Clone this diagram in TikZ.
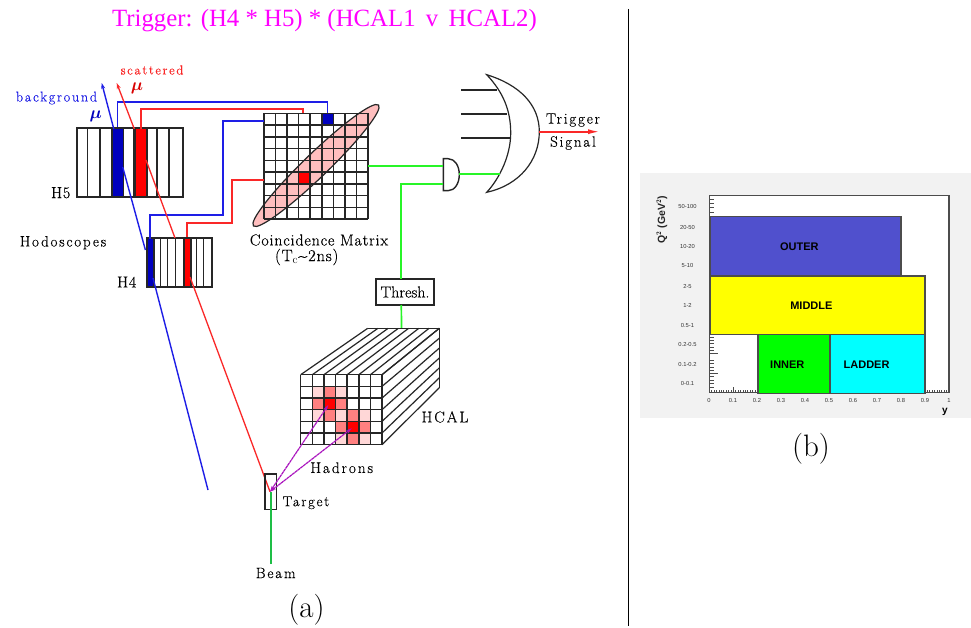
\documentclass[tikz,border=0pt]{standalone}
\usepackage{amsmath}
\usepackage{fontspec}
\usetikzlibrary{arrows.meta,calc,shapes.geometric}
\newfontfamily\spc{Latin Modern Roman}[LetterSpace=12,FakeBold=0.25]
\newfontfamily\spcs{Latin Modern Roman}[LetterSpace=5,FakeBold=0.25]
\newfontfamily\plainb{Latin Modern Roman}[FakeBold=0.25]
\newfontfamily\ttl{Liberation Serif}
\newfontfamily\arl{Liberation Sans}
\definecolor{wblue}{RGB}{30,30,230}
\definecolor{wred}{RGB}{250,40,40}
\definecolor{wgreen}{RGB}{40,245,40}
\definecolor{bgreen}{RGB}{30,190,70}
\definecolor{dblue}{RGB}{0,0,190}
\definecolor{pinkfill}{RGB}{255,190,190}
\definecolor{medred}{RGB}{255,128,128}
\definecolor{litered}{RGB}{255,215,215}
\definecolor{hadron}{RGB}{170,20,190}
\definecolor{panelgrey}{RGB}{242,242,242}
\definecolor{outerblue}{RGB}{80,80,205}
\definecolor{ttlmag}{RGB}{255,0,255}
\definecolor{ryellow}{RGB}{255,255,0}
\definecolor{rcyan}{RGB}{0,255,255}
\definecolor{rgreen}{RGB}{0,255,0}
\tikzset{
 lab/.style={font=\spc\fontsize{15}{17}\selectfont,inner sep=0pt,text=black},
 labm/.style={font=\spcs\fontsize{16}{18}\selectfont,inner sep=0pt,text=black},
 capl/.style={font=\fontsize{31}{33}\selectfont,inner sep=0pt},
 blk/.style={draw=black!85,line width=1.5pt},
 bar/.style={draw=black!85,line width=1.5pt,inner sep=0pt,anchor=south west,minimum height=#1},
 bwire/.style={draw=wblue,line width=1.7pt},
 rwire/.style={draw=wred,line width=1.7pt},
 gwire/.style={draw=wgreen,line width=1.7pt},
 trackb/.style={draw=wblue,line width=1.4pt},
 trackr/.style={draw=wred,line width=1.3pt},
 hwire/.style={draw=hadron,line width=1.2pt,dash pattern=on 3pt off 0.5pt},
 tinyl/.style={font=\arl\fontsize{5.8}{6}\selectfont,inner sep=0pt,text=black!80},
 regl/.style={font=\arl\bfseries\fontsize{11}{12}\selectfont,inner sep=0pt},
 region/.style={draw=black!70,line width=1.2pt},
 tickl/.style={draw=black!70,line width=0.8pt},
}
\begin{document}
\begin{tikzpicture}[x=1pt,y=-1pt]
\useasboundingbox (0,0) rectangle (971,628);
\fill[white] (0,0) rectangle (971,628);
% title
\node[font=\ttl\fontsize{24.8}{26}\selectfont,text=ttlmag,inner sep=0pt] (title) at (324.5,21) {Trigger: (H4 * H5) * (HCAL1\, v\, HCAL2)};
% divider
\coordinate (divT) at (628.5,9);
\coordinate (divB) at (628.5,626);
\draw[black,line width=1pt] (divT) -- (divB);
% coincidence ellipse & matrix
\node[draw=black!85,line width=1.2pt,fill=pinkfill,ellipse,minimum width=174pt,minimum height=24pt,inner sep=0pt,rotate=44] (ell) at (316,165.5) {};
\fill[dblue] (321.8,113.3) rectangle (333.4,125);
\fill[red] (298.7,171.8) rectangle (310.2,183.5);
\foreach \i in {0,...,9} {
  \draw[blk] ({264+\i*11.556},113.3) -- ({264+\i*11.556},219);
  \draw[blk] (264,{113.3+\i*11.744}) -- (368,{113.3+\i*11.744});
}
\coordinate (mTop5) at (327.6,113.3);
\coordinate (mTop3) at (303.3,113.3);
\coordinate (mL1) at (264,120.7);
\coordinate (mL5) at (264,180);
\coordinate (mR) at (368,166);
% H5
\node[bar=69pt,minimum width=106pt,fill=white] (h5) at (76,198) {};
\foreach \x in {87.5,100,134,157,169} \draw[blk] (\x,129) -- (\x,198);
\node[bar=69pt,minimum width=11.7pt,fill=dblue] (h5b) at (111,198) {};
\node[bar=69pt,minimum width=12pt,fill=red] (h5r) at (134,198) {};
% H4
\node[bar=49pt,minimum width=65pt,fill=white] (h4) at (146,287.7) {};
\foreach \x in {160.7,167.7,175.7,196.7,203.7} \draw[blk] (\x,238.7) -- (\x,287.7);
\node[bar=49pt,minimum width=7.3pt,fill=dblue] (h4b) at (146,287.7) {};
\node[bar=49pt,minimum width=7pt,fill=red] (h4r) at (183,287.7) {};
% wires
\draw[bwire] (h5b.north) |- (327.6,101.7) -- (mTop5);
\draw[rwire] (140.7,129) |- (303.3,108.7) -- (mTop3);
\draw[bwire] (150,238.7) |- (223.3,214.7) |- (mL1);
\draw[rwire] (h4r.north) |- (231.7,223.3) |- (mL5);
% tracks
\coordinate (bBot) at (208,490);
\coordinate (bH4a) at (153,278);
\coordinate (bH4b) at (145.4,250);
\coordinate (bH5a) at (122.7,167);
\coordinate (bH5b) at (113.8,129);
\coordinate (bTip) at (101.7,83);
\draw[trackb] (bBot) -- (bH4a);
\draw[trackb] (bH4b) -- (bH5a);
\draw[trackb,-{Stealth[length=6pt,width=4pt]}] (bH5b) -- (bTip);
\coordinate (rVtx) at (270,491.7);
\coordinate (rH4a) at (190,277);
\coordinate (rH4b) at (175,238);
\coordinate (rH5a) at (146,160);
\coordinate (rH5b) at (134.3,129);
\coordinate (rTip) at (116.7,83);
\draw[trackr] (rVtx) -- (rH4a);
\draw[trackr] (rH4b) -- (rH5a);
\draw[trackr,-{Stealth[length=6pt,width=4pt]}] (rH5b) -- (rTip);
% AND / OR gates
\draw[blk,fill=white,line width=1.4pt] (443.3,158.7) -- (443.3,190.7) -- (448,190.7) .. controls (455,190.7) and (459.3,183) .. (459.3,174.7) .. controls (459.3,166) and (455,158.7) .. (448,158.7) -- cycle;
\coordinate (andA) at (443.3,166);
\coordinate (andB) at (443.3,184);
\coordinate (andO) at (459.3,174);
\coordinate (orI) at (500,174);
\coordinate (orO) at (539.3,131.7);
\coordinate (trigEnd) at (600,131.7);
\draw[blk,line width=1.2pt] (486.7,74.7) .. controls (520,85) and (539.3,105) .. (539.3,131.7) .. controls (539.3,160) and (520,185) .. (486.7,192.3) .. controls (500,178) and (510.7,155) .. (510.7,133) .. controls (510.7,110) and (503,92) .. (486.7,74.7) -- cycle;
\foreach \xa/\yy in {496.7/90,506.7/114,510.7/138} \draw[blk] (461.3,\yy) -- (\xa,\yy);
\draw[gwire] (mR) -- (andA);
\draw[gwire] (andO) -- (orI);
\draw[rwire,-{Latex[length=12pt,width=5pt]}] (orO) -- (trigEnd);
% Thresh
\node[draw=black!85,line width=1.5pt,fill=white,minimum width=58pt,minimum height=26pt,inner sep=0pt,font=\plainb\fontsize{16}{18}\selectfont] (th) at (405,292) {Thresh.};
\draw[gwire] (andB) -| (401.3,279);
\coordinate (hcTop) at (401.5,328.3);
\draw[gwire] (401.3,305) -- (hcTop);
% HCAL
\fill[white] (300.7,374.7) -- (367.7,328.3) -- (439.3,328.3) -- (439.3,387.7) -- (382,444.7) -- (300.7,444.7) -- cycle;
\foreach \c/\r/\k in {1/1/litered,2/1/medred,3/1/litered,1/2/medred,2/2/red,3/2/medred,1/3/litered,2/3/medred,3/3/litered,4/3/medred,5/3/litered,3/4/medred,4/4/red,5/4/medred,3/5/litered,4/5/medred,5/5/litered}
  \fill[\k] ({300.7+\c*11.62},{374.7+\r*11.67}) rectangle ++(11.62,11.67);
\foreach \i in {0,...,7} {
  \draw[blk] ({300.7+\i*11.62},374.7) -- ({300.7+\i*11.62},444.7);
  \draw[blk,line width=1.2pt] ({300.7+\i*11.62},374.7) -- ({367.7+\i*10.23},328.3);
}
\foreach \i in {0,...,6} {
  \draw[blk] (300.7,{374.7+\i*11.67}) -- (382,{374.7+\i*11.67});
  \draw[blk,line width=1.2pt] (382,{374.7+\i*11.67}) -- (439.3,{328.3+\i*9.9});
}
\draw[blk] (367.7,328.3) -- (439.3,328.3) -- (439.3,387.7);
% target
\node[draw=black!85,line width=1.5pt,minimum width=11.7pt,minimum height=35.3pt,inner sep=0pt] (tgt) at (270.8,491.7) {};
\coordinate (bmEnd) at (271,564);
\draw[draw=bgreen,line width=1.5pt] (bmEnd) -- (271,492);
\coordinate (hadA) at (328.3,405);
\coordinate (hadB) at (351.7,428.3);
\draw[hwire,{Stealth[length=6pt,width=3.5pt]}-{Stealth[length=6pt,width=3.5pt]}] (rVtx) -- (hadA);
\draw[hwire,{Stealth[length=6pt,width=3.5pt]}-{Stealth[length=6pt,width=3.5pt]}] (rVtx) -- (hadB);
% labels
\node[lab,text=wblue,font=\spc\fontsize{14.2}{16}\selectfont] (lbg) at (56.5,98) {background};
\node[text=dblue,inner sep=0pt] (mub) at (95.7,116.7) {\fontsize{16}{16}\selectfont$\boldsymbol{\mu}$};
\node[lab,text=wred,font=\spc\fontsize{13}{15}\selectfont] (lsc) at (152,70) {scattered};
\node[text=red!85!black,inner sep=0pt] (mur) at (137,88) {\fontsize{16}{16}\selectfont$\boldsymbol{\mu}$};
\node[labm] (lh5) at (60.7,192.7) {H5};
\node[lab] (lhod) at (63,242.7) {Hodoscopes};
\node[labm] (lh4) at (126.7,282) {H4};
\node[lab,font=\spcs\fontsize{16}{18}\selectfont] (lcm) at (319,240) {Coincidence Matrix};
\node[lab,font=\spcs\fontsize{16.5}{18}\selectfont] (ltc) at (306.7,257) {(T$_{\mathrm c}$\textasciitilde 2ns)};
\node[lab] (ltr) at (573,120) {Trigger};
\node[lab] (lsg) at (573,143) {Signal};
\node[lab,font=\spc\fontsize{15.7}{17}\selectfont] (lhcal) at (445,417) {HCAL};
\node[lab,font=\spc\fontsize{15.4}{17}\selectfont] (lhad) at (341.7,467.7) {Hadrons};
\node[lab,font=\spc\fontsize{14.5}{17}\selectfont] (ltg) at (306,502.7) {Target};
\node[lab] (lbm) at (275.7,573) {Beam};
\node[capl] (capa) at (306.5,610) {(a)};
\node[capl] (capb) at (811,449) {(b)};
% panel b
\fill[panelgrey] (640,172.7) rectangle (971,418);
\fill[white] (709.3,195.3) rectangle (949,392.7);
\draw[region,line width=1.4pt] (709.3,195.3) rectangle (949,392.7);
\node[region,fill=outerblue,minimum width=191pt,minimum height=59.3pt,anchor=north west,inner sep=0pt] (ro) at (709.3,216) {};
\node[region,fill=ryellow,minimum width=215pt,minimum height=58.7pt,anchor=north west,inner sep=0pt] (rm) at (709.3,275.3) {};
\node[region,fill=rgreen,minimum width=72pt,minimum height=58.7pt,anchor=north west,inner sep=0pt] (ri) at (757.3,334) {};
\node[region,fill=rcyan,minimum width=95pt,minimum height=58.7pt,anchor=north west,inner sep=0pt] (rl) at (829.3,334) {};
\node[regl] (to) at (ro.center) [xshift=-6pt,yshift=0pt] {OUTER};
\node[regl] (tm) at (rm.center) [xshift=-6pt,yshift=0pt] {MIDDLE};
\node[regl] (ti) at (ri.center) [xshift=-6.6pt,yshift=-0.7pt] {INNER};
\node[regl] (tl) at (rl.center) [xshift=-10.8pt,yshift=-0.7pt] {LADDER};
% ticks
\foreach \v in {199,203,207,212} \draw[tickl] (709.3,\v) -- (713.5,\v);
\foreach \v in {337,340,343,347,350,360,363,367,370,373,376,380,383,387} \draw[tickl] (709.3,\v) -- (713.5,\v);
\draw[tickl] (709.3,353.5) -- (718,353.5);
\draw[tickl] (709.3,373.5) -- (718,373.5);
\foreach \i in {11,...,19} \draw[tickl] ({709.3+\i*2.4},392.7) -- ({709.3+\i*2.4},389.7);
\foreach \i in {1,...,9} \draw[tickl] ({709.3+\i*2.4},392.7) -- ({709.3+\i*2.4},389.7);
\draw[tickl] (733.3,392.7) -- (733.3,387);
\foreach \i in {1,...,9} \draw[tickl] ({925+\i*2.4},392.7) -- ({925+\i*2.4},389.7);
\foreach \v/\t in {207/50-100,228/20-50,246.7/10-20,266/5-10,287/2-5,305.7/1-2,325.7/0.5-1,345/0.2-0.5,365/0.1-0.2,384/0-0.1}
  \node[tinyl] at (687.5,\v) {\t};
\foreach \i/\t in {0/0,1/0.1,2/0.2,3/0.3,4/0.4,5/0.5,6/0.6,7/0.7,8/0.8,9/0.9,10/1}
  \node[tinyl] at ({709+\i*24},400.7) {\t};
\node[font=\arl\bfseries\fontsize{10}{10}\selectfont,inner sep=0pt] (ly) at (945,411.5) {y};
\node[font=\arl\bfseries\fontsize{10.5}{11}\selectfont,inner sep=0pt,rotate=90,text=black!85] (lq) at (661.7,220) {Q$^{\mathbf 2}$ (GeV$^{\mathbf 2}$)};
\end{tikzpicture}
\end{document}
